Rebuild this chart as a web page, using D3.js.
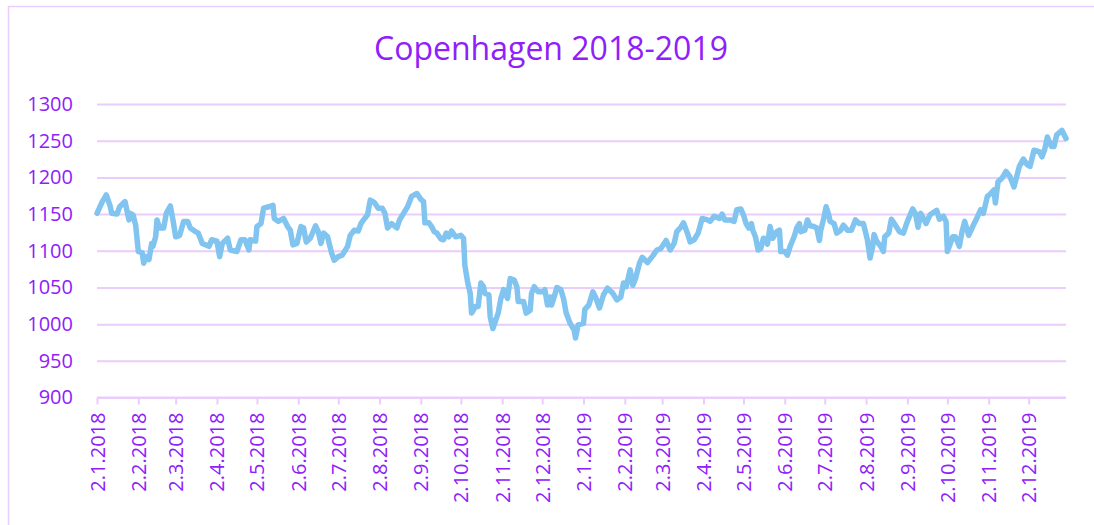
<!DOCTYPE html>
<html>
<head>
<meta charset="utf-8">
<script src="https://cdn.jsdelivr.net/npm/d3@7"></script>
<style>
  html, body { margin: 0; padding: 0; background: #fff; }
  svg { display: block; }
  text { font-family: "Open Sans", "Noto Sans", sans-serif; }
</style>
</head>
<body>
<svg id="chart" width="1094" height="525"></svg>
<script>
// ---- data ----
const title = "Copenhagen 2018-2019";
const startDate = "2018-01-02";
const endDate = "2019-12-30";
// day offsets from startDate
const days = [0,4,7,10,11,15,17,21,24,25,27,29,31,34,35,37,39,41,42,44,45,47,50,52,55,57,59,62,65,68,70,74,76,79,84,86,90,92,94,98,100,105,108,111,114,115,119,120,123,
125,129,132,133,136,140,143,145,147,150,153,155,157,160,164,166,168,170,173,176,178,181,184,188,190,193,196,198,200,203,205,208,211,214,216,218,221,225,227,230,233,236,240,
243,245,246,249,251,253,255,258,260,262,264,266,269,273,275,276,278,280,281,284,286,288,290,291,294,295,297,300,301,303,305,308,310,313,315,316,320,322,325,326,328,331,335,336,338,340,341,343,345,348,350,352,355,358,359,361,
365,366,369,372,374,377,380,383,387,390,393,395,397,400,402,404,407,409,413,417,420,423,427,430,433,435,438,440,443,445,448,451,454,458,460,463,467,469,471,475,
478,480,483,485,487,489,491,492,494,496,498,500,502,503,505,507,510,512,513,516,518,520,523,525,527,528,531,533,535,538,540,542,543,545,547,549,550,553,555,558,560,563,566,569,572,575,578,580,582,583,585,588,590,591,594,596,
599,602,605,608,612,614,616,618,622,625,630,632,635,637,638,642,644,647,649,651,654,657,660,663,665,668,670,673,674,676,679,682,685,688,692,695,698,700,703,707,709,711,713,716,718,720,724,727];
const values = [1151,1167,1176,1160,1151,1150,1160,1167,1142,1151,1149,1135,1099,1097,1083,1092,1088,1110,1106,1119,1142,1131,1131,1151,1161,1142,1119,1121,1140,1140,1131,1126,1124,1110,1106,1115,1113,1092,1110,1117,1101,1099,1115,1115,1101,1115,1113,1133,1137,
1158,1160,1162,1144,1140,1144,1133,1128,1108,1110,1133,1131,1112,1117,1134,1126,1110,1124,1119,1097,1087,1092,1094,1106,1121,1128,1127,1137,1142,1149,1169,1166,1158,1158,1151,1131,1137,1131,1142,1151,1160,1174,1178,
1170,1167,1138,1138,1133,1126,1124,1116,1115,1124,1119,1127,1119,1121,1117,1080,1058,1042,1015,1024,1024,1056,1051,1042,1040,1010,994,1010,1015,1035,1047,1035,1062,1060,1051,1031,1031,1015,1019,1042,1051,1044,1044,1047,1026,1037,1026,1037,1050,1047,1035,1015,1001,992,981,999,
1001,1020,1026,1044,1037,1022,1040,1049,1042,1033,1037,1056,1051,1074,1053,1062,1083,1091,1084,1093,1101,1103,1114,1101,1110,1126,1132,1138,1124,1112,1115,1124,1144,1142,1140,1147,1144,1150,1142,1142,
1140,1156,1157,1149,1137,1131,1137,1128,1119,1101,1103,1117,1115,1109,1133,1117,1126,1128,1099,1099,1094,1106,1119,1131,1137,1126,1128,1142,1134,1133,1131,1114,1128,1142,1160,1149,1140,1137,1124,1128,1135,1128,1128,1142,1137,1137,1115,1090,1106,1122,1113,1106,1099,1119,1124,1143,
1135,1126,1124,1140,1157,1151,1132,1151,1137,1149,1155,1143,1147,1140,1099,1119,1119,1106,1126,1140,1121,1133,1144,1156,1151,1174,1177,1183,1165,1194,1199,1208,1201,1187,1215,1225,1217,1215,1237,1235,1228,1238,1255,1242,1242,1258,1264,1253];
const yTicks = [900,950,1000,1050,1100,1150,1200,1250,1300];
const xTickLabels = ["2.1.2018","2.2.2018","2.3.2018","2.4.2018","2.5.2018","2.6.2018","2.7.2018","2.8.2018","2.9.2018","2.10.2018","2.11.2018","2.12.2018",
  "2.1.2019","2.2.2019","2.3.2019","2.4.2019","2.5.2019","2.6.2019","2.7.2019","2.8.2019","2.9.2019","2.10.2019","2.11.2019","2.12.2019"];

// ---- styles ----
const purple = "#9020fa";
const gridColor = "#e9cdfc";
const lineColor = "#80c4ef";

const svg = d3.select("#chart");
const margin = {left: 97, right: 1066, top: 104, bottom: 397.5};

const parse = d3.timeParse("%Y-%m-%d");
const start = parse(startDate);
const data = days.map((d, i) => ({date: d3.timeDay.offset(start, d), value: values[i]}));
const tickDates = xTickLabels.map(s => d3.timeParse("%d.%m.%Y")(s));

const x = d3.scaleTime().domain([start, parse(endDate)]).range([margin.left, margin.right]);
const y = d3.scaleLinear().domain([900, 1300]).range([margin.bottom, margin.top]);

// outer border
svg.append("rect").attr("x", 8.5).attr("y", 6.5).attr("width", 1100).attr("height", 540)
  .attr("fill", "none").attr("stroke", gridColor).attr("stroke-width", 1.5);

// title
svg.append("text").attr("x", 551).attr("y", 60).attr("text-anchor", "middle")
  .attr("font-size", 32).attr("fill", purple).text(title);

// gridlines + y labels
const yAxis = d3.axisLeft(y).tickValues(yTicks).tickSize(margin.left - margin.right).tickPadding(24).tickFormat(d3.format("d"));
const gy = svg.append("g").attr("transform", `translate(${margin.left},0)`).call(yAxis);
gy.select(".domain").remove();
gy.selectAll(".tick line").attr("stroke", gridColor).attr("stroke-width", 2);
gy.selectAll(".tick text").attr("fill", purple).attr("font-size", 20).attr("font-family", "Open Sans");

// x axis
const xAxis = d3.axisBottom(x).tickValues(tickDates).tickSize(7).tickFormat((d, i) => xTickLabels[i]);
const gx = svg.append("g").attr("transform", `translate(0,${margin.bottom})`).call(xAxis);
gx.select(".domain").attr("stroke", gridColor).attr("stroke-width", 2).attr("d", `M${margin.left},0H${margin.right}`);
gx.selectAll(".tick line").attr("stroke", gridColor).attr("stroke-width", 2);
gx.selectAll(".tick text").attr("fill", purple).attr("font-size", 20).attr("font-family", "Open Sans")
  .attr("text-anchor", "end").attr("transform", "rotate(-90)")
  .attr("x", -15).attr("y", 0).attr("dy", "0.35em");

// line
const line = d3.line().x(d => x(d.date)).y(d => y(d.value));
svg.append("path").datum(data).attr("d", line)
  .attr("fill", "none").attr("stroke", lineColor).attr("stroke-width", 5.5)
  .attr("stroke-linejoin", "round").attr("stroke-linecap", "round");
</script>
</body>
</html>
